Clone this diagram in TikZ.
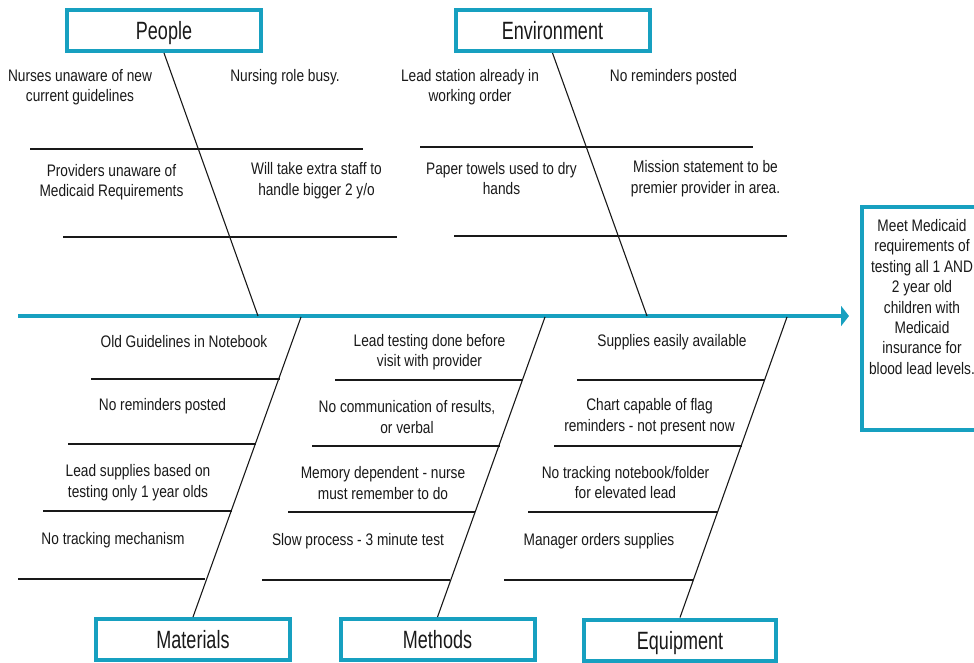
\documentclass[tikz,border=0pt]{standalone}
\usepackage{fontspec}
\setmainfont{Liberation Sans}[FakeStretch=0.82]
\newfontfamily\catfont{Liberation Sans}[FakeStretch=0.72]
\usetikzlibrary{arrows.meta}
\definecolor{teal1}{RGB}{23,160,192}
\definecolor{ink}{RGB}{25,25,25}
\begin{document}
\begin{tikzpicture}[x=1pt,y=-1pt,
  cat/.style={draw=teal1,line width=4pt,minimum width=194pt,minimum height=41pt,inner sep=0pt,text=ink,text height=18pt,text depth=0pt,font=\catfont\fontsize{25}{28}\selectfont},
  cause/.style={align=center,inner sep=0pt,text=ink,font=\fontsize{16.7}{20.5}\selectfont},
  rib/.style={line width=1.3pt,draw=ink},
  bone/.style={line width=1.1pt,draw=ink},
  spine/.style={line width=4.5pt,draw=teal1,-{Triangle[length=8pt,width=20pt]}}]
\useasboundingbox (0,0) rectangle (974,663);
% category boxes
\node[cat] (people) at (164,30.5) {People};
\node[cat] (env) at (552.5,30.5) {Environment};
\node[cat] (mat) at (193,639.5) {Materials};
\node[cat] (meth) at (437.5,639.5) {Methods};
\node[cat,minimum width=192pt] (equip) at (680,640) {Equipment};
% goal box
\node[draw=teal1,line width=4pt,minimum width=118pt,minimum height=223pt,inner sep=0pt] (goal) at (921,318.5) {};
\node[cause,font=\fontsize{16.7}{20.4}\selectfont] (goaltxt) at (922,297) {Meet Medicaid\\requirements of\\testing all 1 AND\\2 year old\\children with\\Medicaid\\insurance for\\blood lead levels.};
% main spine
\coordinate (tail) at (18,316);
\draw[spine,shorten >=11pt] (tail) -- (tail -| goal.west);
% bones
\coordinate (pj) at (258,316);
\coordinate (ej) at (647,316);
\coordinate (mj) at (301,317);
\coordinate (thj) at (545,317);
\coordinate (qj) at (787,317);
\draw[bone] (people.south) -- (pj);
\draw[bone] (env.south) -- (ej);
\draw[bone] (mat.north) -- (mj);
\draw[bone] (meth.north) -- (thj);
\draw[bone] (equip.north) -- (qj);
% ribs people
\draw[rib] (30,149) -- (363,149);
\draw[rib] (63,237) -- (397,237);
% ribs environment
\draw[rib] (420,147) -- (753,147);
\draw[rib] (454,236) -- (787,236);
% ribs materials
\draw[rib] (91,379) -- (280,379);
\draw[rib] (68,444) -- (256,444);
\draw[rib] (43,511) -- (232,511);
\draw[rib] (18,579) -- (205,579);
% ribs methods
\draw[rib] (335,380) -- (523,380);
\draw[rib] (312,446) -- (500,446);
\draw[rib] (288,512) -- (475,512);
\draw[rib] (262,580) -- (450,580);
% ribs equipment
\draw[rib] (577,380) -- (765,380);
\draw[rib] (554,446) -- (742,446);
\draw[rib] (528,512) -- (718,512);
\draw[rib] (504,580) -- (693,580);
% people causes
\node[cause] (p1) at (80,87) {Nurses unaware of new\\current guidelines};
\node[cause] (p2) at (285,77) {Nursing role busy.};
\node[cause] (p3) at (111.5,182) {Providers unaware of\\Medicaid Requirements};
\node[cause] (p4) at (316.5,180.5) {Will take extra staff to\\handle bigger 2 y/o};
% environment causes
\node[cause] (e1) at (470,87) {Lead station already in\\working order};
\node[cause] (e2) at (673.5,77) {No reminders posted};
\node[cause] (e3) at (501.5,178.5) {Paper towels used to dry\\hands};
\node[cause] (e4) at (705.5,178.5) {Mission statement to be\\premier provider in area.};
% materials causes
\node[cause] (m1) at (184,342) {Old Guidelines in Notebook};
\node[cause] (m2) at (162.5,406) {No reminders posted};
\node[cause] (m3) at (138,482.5) {Lead supplies based on\\testing only 1 year olds};
\node[cause] (m4) at (113,540) {No tracking mechanism};
% methods causes
\node[cause] (t1) at (429.5,352) {Lead testing done before\\visit with provider};
\node[cause] (t2) at (407,417) {No communication of results,\\or verbal};
\node[cause] (t3) at (383,483) {Memory dependent - nurse\\must remember to do};
\node[cause] (t4) at (358,541) {Slow process - 3 minute test};
% equipment causes
\node[cause] (q1) at (672,342) {Supplies easily available};
\node[cause] (q2) at (649.5,416.5) {Chart capable of flag\\reminders - not present now};
\node[cause] (q3) at (625.5,482.5) {No tracking notebook/folder\\for elevated lead};
\node[cause] (q4) at (599,541) {Manager orders supplies};
\end{tikzpicture}
\end{document}
